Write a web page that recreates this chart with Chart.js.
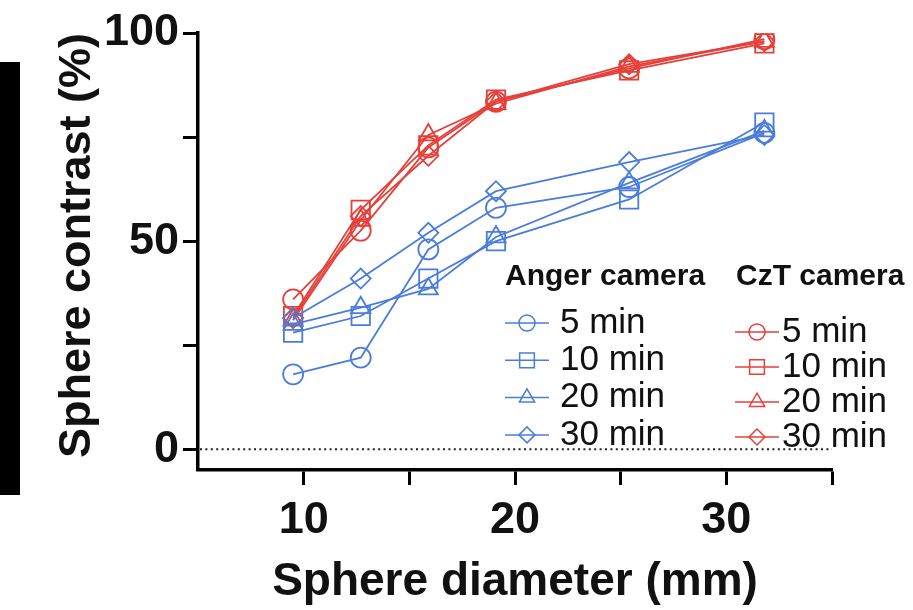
<!DOCTYPE html>
<html>
<head>
<meta charset="utf-8">
<script src="https://cdn.jsdelivr.net/npm/chart.js@4.4.1/dist/chart.umd.min.js"></script>
<style>
  body { margin: 0; background: #fff; }
  #wrap { position: relative; width: 913px; height: 610px; }
  #edge { position: absolute; left: 0; top: 62px; width: 20px; height: 433px; background: #000; }
</style>
</head>
<body>
<div id="wrap">
  <canvas id="contrastChart"></canvas>
  <div id="edge"></div>
</div>
<script>
// sphere diameters (mm) on the x axis
const diameters = [9.5, 12.7, 15.9, 19.1, 25.4, 31.8];
const times = ["5 min", "10 min", "20 min", "30 min"];
const markers = ["circle", "rect", "triangle", "rectRot"];

// contrast (%) per acquisition time
const anger5 = [18, 22, 48, 58, 63, 76];
const anger10 = [28, 32, 41, 50, 60, 78.5];
const anger20 = [30, 34, 38.5, 51, 64, 76.5];
const anger30 = [31.5, 41, 52, 62, 69, 75.5];
const czt5 = [36, 52.5, 72.5, 83.5, 91.5, 98.5];
const czt10 = [32, 57.5, 73, 84, 91, 97.5];
const czt20 = [31, 55, 75.5, 83, 92, 98];
const czt30 = [31.5, 56, 70.5, 83.5, 92.5, 98];

const yTicks = [0, 25, 50, 75, 100];
const yLabels = [0, 50, 100];
const xTicks = [10, 15, 20, 25, 30, 35];
const xLabels = [10, 20, 30];
const groupTitles = ["Anger camera", "CzT camera"];

const BLUE = "#4a7ddb";
const RED = "#e5403a";
const FONT = "'Liberation Sans', Arial, Helvetica, sans-serif";
const markerSize = { circle: 10, rect: 13, triangle: 11, rectRot: 10 };

function makeSets(group, color, series) {
    return series.map((vals, i) => ({
        label: times[i],
        group: group,
        data: diameters.map((d, j) => ({ x: d, y: vals[j] })),
        borderColor: color,
        backgroundColor: "rgba(0,0,0,0)",
        borderWidth: 1.8,
        pointStyle: markers[i],
        pointRadius: markerSize[markers[i]],
        pointBorderWidth: 1.8,
        pointBorderColor: color,
        pointBackgroundColor: "rgba(0,0,0,0)",
        tension: 0
    }));
}

const datasets = [
    ...makeSets(0, BLUE, [anger5, anger10, anger20, anger30]),
    ...makeSets(1, RED, [czt5, czt10, czt20, czt30])
];

// dotted line at y = 0
const zeroLine = {
    id: "zeroLine",
    beforeDatasetsDraw(chart) {
        const { ctx, chartArea, scales } = chart;
        const y = scales.y.getPixelForValue(0);
        ctx.save();
        ctx.strokeStyle = "#222";
        ctx.lineWidth = 2;
        ctx.setLineDash([2, 3.4]);
        ctx.beginPath();
        ctx.moveTo(chartArea.left + 2, y);
        ctx.lineTo(chartArea.right, y);
        ctx.stroke();
        ctx.restore();
    }
};

// two column legend with a heading per camera
const cameraLegend = {
    id: "cameraLegend",
    afterDraw(chart) {
        const ctx = chart.ctx;
        const cols = [
            { head: 505, mark: 527, text: 560, row0: 323, step: 37.3 },
            { head: 736, mark: 757, text: 782, row0: 332, step: 35 }
        ];
        ctx.save();
        ctx.textBaseline = "middle";
        ctx.textAlign = "left";
        cols.forEach((c, g) => {
            ctx.fillStyle = "#111";
            ctx.font = "bold 30px " + FONT;
            ctx.fillText(groupTitles[g], c.head, 277);
            const sets = chart.data.datasets.filter(ds => ds.group === g);
            sets.forEach((ds, i) => {
                const y = c.row0 + i * c.step;
                ctx.strokeStyle = ds.borderColor;
                ctx.lineWidth = 1.5;
                ctx.beginPath();
                ctx.moveTo(c.mark - 22, y);
                ctx.lineTo(c.mark + 22, y);
                ctx.stroke();
                ctx.fillStyle = "rgba(0,0,0,0)";
                Chart.helpers.drawPoint(ctx, {
                    pointStyle: ds.pointStyle,
                    radius: ds.pointRadius * 0.8,
                    borderWidth: 1.5,
                    rotation: 0
                }, c.mark, y);
                ctx.fillStyle = "#111";
                ctx.font = "35px " + FONT;
                ctx.fillText(ds.label, c.text, y);
            });
        });
        ctx.restore();
    }
};

const ctx = document.getElementById("contrastChart").getContext("2d");
new Chart(ctx, {
    type: "line",
    data: { datasets: datasets },
    options: {
        responsive: true,
        maintainAspectRatio: false,
        animation: false,
        layout: { padding: { left: 0, right: 81, top: 33, bottom: 0 } },
        plugins: {
            legend: { display: false },
            tooltip: { enabled: false }
        },
        scales: {
            x: {
                type: "linear",
                min: 5,
                max: 35,
                afterBuildTicks: s => { s.ticks = xTicks.map(v => ({ value: v })); },
                afterFit: s => { s.height = 140; },
                ticks: {
                    autoSkip: false,
                    maxRotation: 0,
                    padding: 9,
                    color: "#111",
                    font: { family: FONT, size: 45, weight: "bold" },
                    callback: v => xLabels.includes(v) ? String(v) : ""
                },
                grid: { drawOnChartArea: false, tickLength: 15, tickWidth: 3, tickColor: "#000" },
                border: { color: "#000", width: 3.5 },
                title: {
                    display: true,
                    text: "Sphere diameter (mm)",
                    color: "#111",
                    font: { family: FONT, size: 46, weight: "bold" },
                    padding: { top: 0, bottom: 0 }
                }
            },
            y: {
                min: -5,
                max: 100,
                afterBuildTicks: s => { s.ticks = yTicks.map(v => ({ value: v })); },
                afterFit: s => { s.width = 198; },
                ticks: {
                    padding: 4,
                    color: "#111",
                    font: { family: FONT, size: 45, weight: "bold" },
                    callback: v => yLabels.includes(v) ? String(v) : ""
                },
                grid: { drawOnChartArea: false, tickLength: 15, tickWidth: 3, tickColor: "#000" },
                border: { color: "#000", width: 3.5 },
                title: {
                    display: true,
                    text: "Sphere contrast (%)",
                    align: "end",
                    color: "#111",
                    font: { family: FONT, size: 45, weight: "bold" },
                    padding: { top: 51, bottom: 0 }
                }
            }
        }
    },
    plugins: [zeroLine, cameraLegend]
});
</script>
</body>
</html>
